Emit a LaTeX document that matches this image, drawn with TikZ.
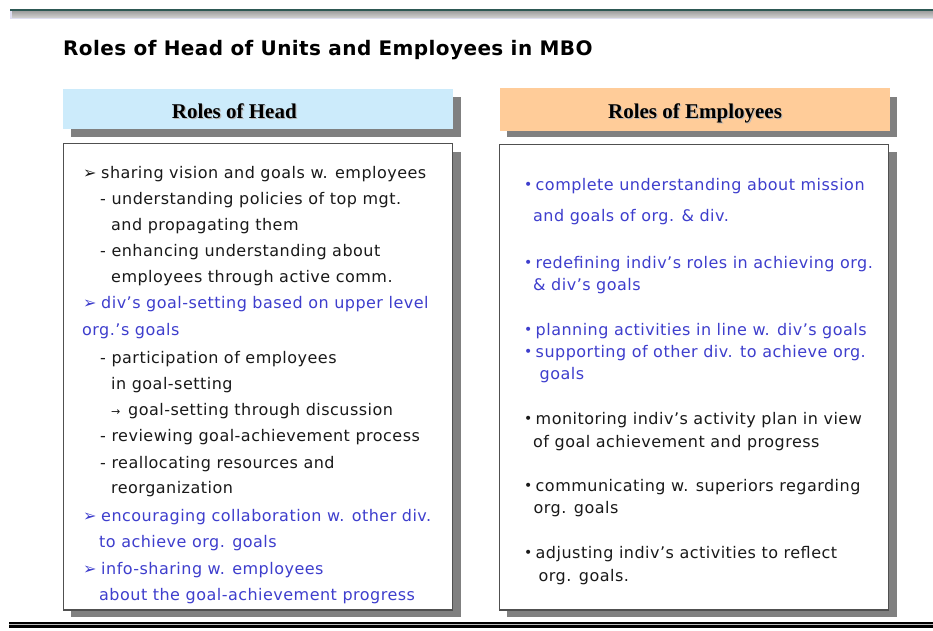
\documentclass[tikz,border=0pt]{standalone}
\usepackage{fontspec}
\setmainfont{DejaVu Sans}
\newfontfamily\bodyfont[LetterSpace=3]{DejaVu Sans}
\newfontfamily\titlefont[LetterSpace=2]{DejaVu Sans}
\newfontfamily\hdrfont{Liberation Serif}
\definecolor{ink}{RGB}{25,25,25}
\definecolor{bluetext}{RGB}{62,62,205}
\definecolor{headblue}{RGB}{204,235,251}
\definecolor{headorange}{RGB}{255,204,153}
\definecolor{shadowgray}{RGB}{128,128,128}
\definecolor{boxline}{RGB}{80,80,80}
\definecolor{teal}{RGB}{45,88,84}
\definecolor{lav}{RGB}{222,222,242}
\newcommand\myarr{\makebox[18pt][l]{{\fontsize{16}{16}\selectfont ➢}}}
\newcommand\mybul{\makebox[11.5pt][l]{\raisebox{0.6pt}{\fontsize{14}{14}\selectfont •}}}
\newcommand\mysmallarr{{\fontsize{11}{11}\selectfont →}}
\tikzset{
  txt/.style={anchor=base west, inner sep=0pt, font=\bodyfont\fontsize{16}{18}\selectfont, text=ink},
  blu/.style={txt, text=bluetext},
  contentbox/.style={draw=boxline, line width=1.2pt, fill=white},
  hdrtext/.style={inner sep=0pt, anchor=base, font=\hdrfont\bfseries\fontsize{21}{24}\selectfont},
}
\begin{document}
\begin{tikzpicture}[x=1pt,y=-1pt]
\useasboundingbox (0,0) rectangle (933,630);
% top bar
\fill[lav] (10,9) rectangle (933,19);
\shade[top color=gray!75, bottom color=gray!40] (12,11) rectangle (933,17);
\fill[teal] (10,9) rectangle (933,11.3);
% bottom bar
\fill[black] (9,622.3) rectangle (933,628);
\draw[gray!55, line width=1pt] (9,624.7) -- (933,624.7);
% title
\node[anchor=base west, inner sep=0pt, font=\titlefont\bfseries\fontsize{20}{24}\selectfont] (title) at (63,55.5) {Roles of Head of Units and Employees in MBO};
% headers
\fill[shadowgray] (71,96.7) rectangle (461,136.7);
\fill[headblue] (63.3,89.3) rectangle (452.7,129.3);
\fill[shadowgray] (506.7,96.7) rectangle (896.7,137.3);
\fill[headorange] (500,88) rectangle (890,130.7);
\node[hdrtext, text=gray!55] at (235.5,119.3) {Roles of Head};
\node[hdrtext] (hhead) at (234.3,118) {Roles of Head};
\node[hdrtext, text=gray!55] at (696.2,119.3) {Roles of Employees};
\node[hdrtext] (hemp) at (695,118) {Roles of Employees};
% content boxes
\fill[shadowgray] (71,152) rectangle (461,617.3);
\filldraw[contentbox] (63.3,143.8) rectangle (452.8,610);
\fill[shadowgray] (507,152) rectangle (897,617.3);
\filldraw[contentbox] (499.5,144.5) rectangle (888.8,610);
% left text
\node[txt] (l1) at (83,178) {\myarr sharing vision and goals w. employees};
\node[txt] (l2) at (100,204.5) {- understanding policies of top mgt.};
\node[txt] (l3) at (111,230.5) {and propagating them};
\node[txt] (l4) at (100,256.5) {- enhancing understanding about};
\node[txt] (l5) at (111,282.5) {employees through active comm.};
\node[blu] (l6) at (83,308.5) {\myarr div’s goal-setting based on upper level};
\node[blu] (l7) at (82,335) {org.’s goals};
\node[txt] (l8) at (100,363) {- participation of employees};
\node[txt] (l9) at (111,389) {in goal-setting};
\node[txt] (l10) at (111,415) {\makebox[17pt][l]{\mysmallarr}goal-setting through discussion};
\node[txt] (l11) at (100,441.5) {- reviewing goal-achievement process};
\node[txt] (l12) at (100,468) {- reallocating resources and};
\node[txt] (l13) at (111,493.5) {reorganization};
\node[blu] (l14) at (83,521) {\myarr encouraging collaboration w. other div.};
\node[blu] (l15) at (99,547.5) {to achieve org. goals};
\node[blu] (l16) at (83,574) {\myarr info-sharing w. employees};
\node[blu] (l17) at (99,600.5) {about the goal-achievement progress};
% right text
\node[blu] (r1) at (524,190.5) {\mybul complete understanding about mission};
\node[blu] (r2) at (533,221.7) {and goals of org. \& div.};
\node[blu] (r3) at (524,268.3) {\mybul redefining indiv’s roles in achieving org.};
\node[blu] (r4) at (533,290.7) {\& div’s goals};
\node[blu] (r5) at (524,335) {\mybul planning activities in line w. div’s goals};
\node[blu] (r6) at (524,357.3) {\mybul supporting of other div. to achieve org.};
\node[blu] (r7) at (539.5,379.3) {goals};
\node[txt] (r8) at (524,424) {\mybul monitoring indiv’s activity plan in view};
\node[txt] (r9) at (533,447) {of goal achievement and progress};
\node[txt] (r10) at (524,491.5) {\mybul communicating w. superiors regarding};
\node[txt] (r11) at (533.5,513.5) {org. goals};
\node[txt] (r12) at (524,558.5) {\mybul adjusting indiv’s activities to reflect};
\node[txt] (r13) at (538.5,581) {org. goals.};
\end{tikzpicture}
\end{document}
